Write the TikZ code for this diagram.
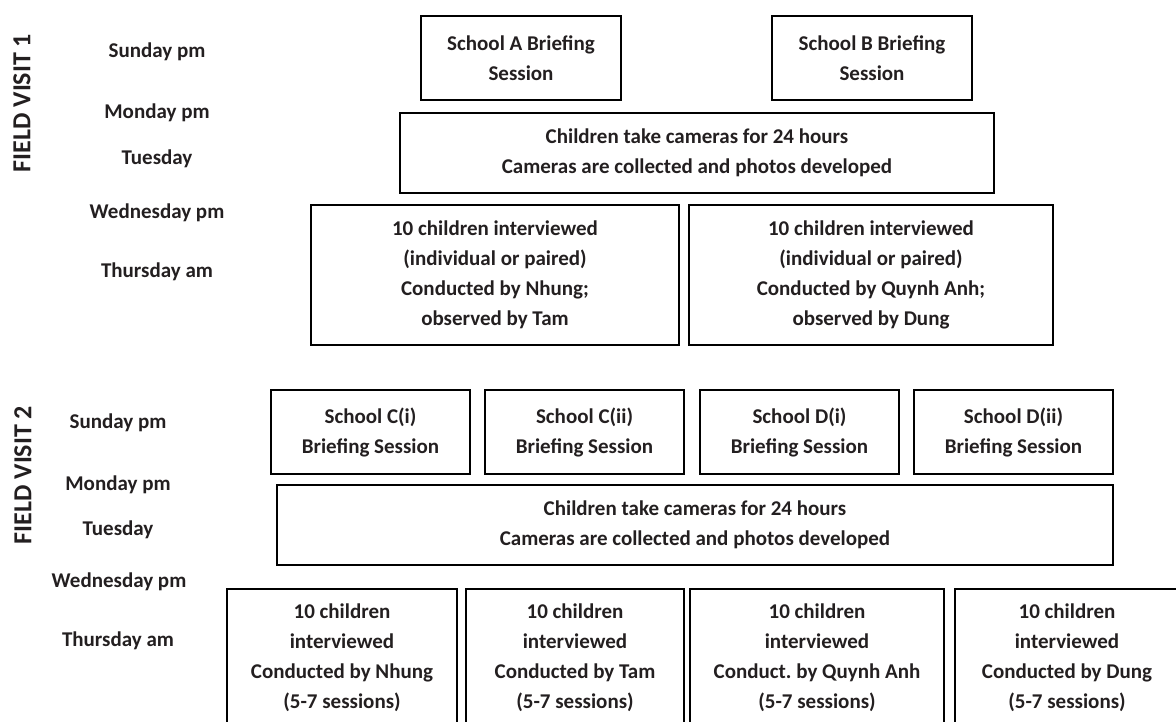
\documentclass[tikz,border=0pt]{standalone}
\usepackage{fontspec}
\setmainfont{Carlito}
\frenchspacing
\definecolor{ink}{HTML}{231F20}
\newcommand\lblfont{\fontsize{21pt}{30pt}\selectfont\bfseries}
\newcommand\fvfont{\fontsize{26pt}{30pt}\selectfont\bfseries}
\begin{document}
\begin{tikzpicture}[x=1pt,y=-1pt,
  box/.style={draw=black, line width=1.6pt, inner sep=0pt, align=center, font=\lblfont, text=ink},
  lbl/.style={align=center, font=\lblfont, inner sep=0pt, text=ink},
  fv/.style={rotate=90, font=\fvfont, inner sep=0pt, text=ink}]
\useasboundingbox (0,0) rectangle (1176,722);
\clip (0,0) rectangle (1176,722);

% ---- Field visit 1 ----
\node[fv] (fv1) at (22,103) {FIELD VISIT 1};
\node[lbl] (d1a) at (157,52) {Sunday pm};
\node[lbl] (d1b) at (157,113) {Monday pm};
\node[lbl] (d1c) at (157,159) {Tuesday};
\node[lbl] (d1d) at (157,213) {Wednesday pm};
\node[lbl] (d1e) at (157,272) {Thursday am};

\node[box, minimum width=200pt, minimum height=84pt] (sA) at (521,58) {School A Briefing\\Session};
\node[box, minimum width=200pt, minimum height=84pt] (sB) at (872,58) {School B Briefing\\Session};
\node[box, minimum width=594pt, minimum height=80pt] (cam1) at (697,153) {Children take cameras for 24 hours\\Cameras are collected and photos developed};
\node[box, minimum width=368pt, minimum height=140pt] (i1a) at (495,275) {10 children interviewed\\(individual or paired)\\Conducted by Nhung;\\observed by Tam};
\node[box, minimum width=364pt, minimum height=140pt] (i1b) at (871,275) {10 children interviewed\\(individual or paired)\\Conducted by Quynh Anh;\\observed by Dung};

% ---- Field visit 2 ----
\node[fv] (fv2) at (23,475) {FIELD VISIT 2};
\node[lbl] (d2a) at (118,423) {Sunday pm};
\node[lbl] (d2b) at (118,485) {Monday pm};
\node[lbl] (d2c) at (118,530) {Tuesday};
\node[lbl] (d2d) at (119,582) {Wednesday pm};
\node[lbl] (d2e) at (118,641) {Thursday am};

\node[box, minimum width=199pt, minimum height=84pt] (sCi) at (370.5,432) {School C(i)\\Briefing Session};
\node[box, minimum width=199pt, minimum height=84pt] (sCii) at (584.5,432) {School C(ii)\\Briefing Session};
\node[box, minimum width=199pt, minimum height=84pt] (sDi) at (799.5,432) {School D(i)\\Briefing Session};
\node[box, minimum width=199pt, minimum height=84pt] (sDii) at (1013.5,432) {School D(ii)\\Briefing Session};
\node[box, minimum width=836pt, minimum height=80pt] (cam2) at (695,525) {Children take cameras for 24 hours\\Cameras are collected and photos developed};
\node[box, minimum width=230pt, minimum height=138pt] (i2a) at (342,658) {10 children\\interviewed\\Conducted by Nhung\\(5-7 sessions)};
\node[box, minimum width=218pt, minimum height=138pt] (i2b) at (575,658) {10 children\\interviewed\\Conducted by Tam\\(5-7 sessions)};
\node[box, minimum width=254pt, minimum height=138pt] (i2c) at (817,658) {10 children\\interviewed\\Conduct. by Quynh Anh\\(5-7 sessions)};
\node[box, minimum width=224pt, minimum height=138pt] (i2d) at (1067,658) {10 children\\interviewed\\Conducted by Dung\\(5-7 sessions)};
\end{tikzpicture}
\end{document}
